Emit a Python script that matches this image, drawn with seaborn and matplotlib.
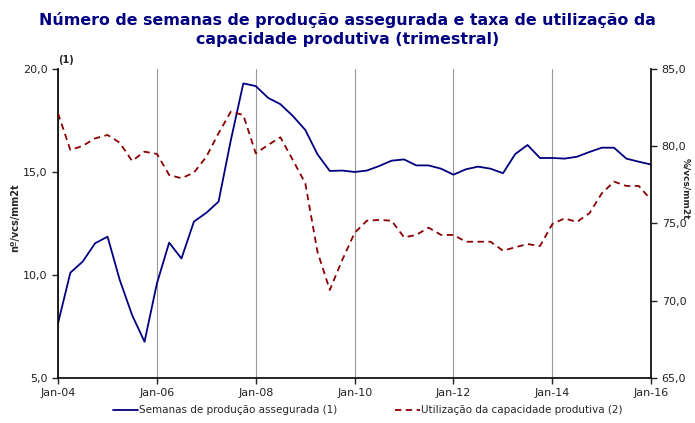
import numpy as np
import pandas as pd
import matplotlib
matplotlib.use('Agg')
import matplotlib.pyplot as plt
import matplotlib.dates as mdates
import seaborn as sns

# quarterly values, Jan-04 .. Jan-16
quarters = pd.date_range('2004-01-01', '2016-01-01', freq='QS')

semanas = [7.66, 10.11, 10.65, 11.54, 11.86, 9.76, 8.06, 6.76, 9.6, 11.57,
           10.8, 12.59, 13.02, 13.56, 16.55, 19.3, 19.17, 18.6, 18.29, 17.72,
           17.04, 15.86, 15.05, 15.07, 15.0, 15.07, 15.29, 15.55, 15.61, 15.32,
           15.32, 15.16, 14.87, 15.13, 15.26, 15.16, 14.94, 15.87, 16.31, 15.68,
           15.68, 15.65, 15.74, 15.97, 16.18, 16.18, 15.65, 15.5, 15.36]

utilizacao = [82.13, 79.76, 80.02, 80.51, 80.73, 80.23, 79.05, 79.65, 79.5, 78.14,
              77.93, 78.29, 79.32, 80.84, 82.24, 82.02, 79.54, 80.08, 80.58, 79.11,
              77.6, 73.17, 70.7, 72.64, 74.4, 75.18, 75.23, 75.18, 74.1, 74.26,
              74.73, 74.26, 74.26, 73.82, 73.82, 73.82, 73.24, 73.46, 73.67, 73.54,
              74.97, 75.33, 75.1, 75.66, 76.95, 77.71, 77.43, 77.43, 76.52]

label_sem = 'Semanas de produção assegurada (1)'
label_util = 'Utilização da capacidade produtiva (2)'

df = pd.DataFrame({'data': quarters, 'semanas': semanas, 'util': utilizacao})

sns.set_style('white')
plt.rcParams['font.family'] = ['DejaVu Sans']

fig = plt.figure(figsize=(6.95, 4.23), dpi=100)
ax1 = fig.add_axes([0.0835, 0.1064, 0.8535, 0.7305])
ax2 = ax1.twinx()

sns.lineplot(data=df, x='data', y='semanas', ax=ax1, color='#000080', lw=1.3, label=label_sem, legend=False)
sns.lineplot(data=df, x='data', y='util', ax=ax2, color='#8B0000', lw=1.3, label=label_util, legend=False)
ax2.lines[0].set_dashes([3.5, 2.5])

ax1.set_xlim(quarters[0], quarters[-1])
ax1.set_ylim(5, 20)
ax2.set_ylim(65, 85)
ax1.set_yticks([5, 10, 15, 20])
ax2.set_yticks([65, 70, 75, 80, 85])
fmt_c = lambda v, p: f'{v:.1f}'.replace('.', ',')
ax1.yaxis.set_major_formatter(plt.FuncFormatter(fmt_c))
ax2.yaxis.set_major_formatter(plt.FuncFormatter(fmt_c))

ax1.xaxis.set_major_locator(mdates.YearLocator(2))
ax1.xaxis.set_major_formatter(mdates.DateFormatter('%b-%y'))
ax1.grid(axis='x', color='#999999', lw=0.8)
ax1.grid(axis='y', visible=False)

for ax in (ax1, ax2):
    for s in ax.spines.values():
        s.set_visible(False)
    ax.tick_params(labelsize=8, colors='#222222', length=4, width=1, direction='out')
ax1.spines['left'].set_visible(True)
ax1.spines['bottom'].set_visible(True)
ax2.spines['right'].set_visible(True)
for s in (ax1.spines['left'], ax1.spines['bottom'], ax2.spines['right']):
    s.set_color('black')
    s.set_linewidth(1.2)
ax1.tick_params(axis='both', left=True, bottom=True)
ax2.tick_params(axis='y', right=True)

ax1.set_xlabel('')
ax1.set_ylabel('nº/vcs/mm2t', fontsize=7, fontweight='bold', va='center')
ax1.yaxis.set_label_coords(-0.073, 0.52)
ax2.set_ylabel('%/vcs/mm2t', fontsize=6.5, fontweight='bold', rotation=270, va='center')
ax2.yaxis.set_label_coords(1.059, 0.612)
ax1.text(0.0, 1.012, '(1)', transform=ax1.transAxes, fontsize=7, fontweight='bold', ha='left', va='bottom')

fig.suptitle('Número de semanas de produção assegurada e taxa de utilização da\ncapacidade produtiva (trimestral)',
             fontsize=11.4, fontweight='bold', color='#000080', y=0.972, linespacing=1.35)

h1, l1 = ax1.get_legend_handles_labels()
h2, l2 = ax2.get_legend_handles_labels()
fig.legend(h1 + h2, l1 + l2, loc='center', ncol=2, frameon=False, fontsize=7.5,
           bbox_to_anchor=(0.529, 0.03), handlelength=2.4, handletextpad=0.1, columnspacing=5.5)

fig.savefig('out.png', dpi=100)
